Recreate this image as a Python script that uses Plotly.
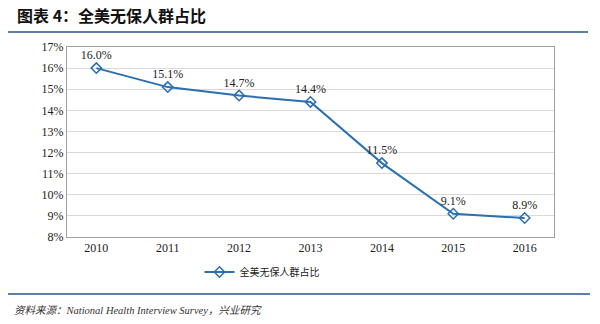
import plotly.graph_objects as go

years = ["2010", "2011", "2012", "2013", "2014", "2015", "2016"]
uninsured_pct = [16.0, 15.1, 14.7, 14.4, 11.5, 9.1, 8.9]
y_ticks = list(range(8, 18))
y_tick_labels = [f"{v}%" for v in y_ticks]
series_name = "全美无保人群占比"
title_text = "图表 4：全美无保人群占比"
source_text = "资料来源：National Health Interview Survey，兴业研究"

W, H = 600, 324
L, R, T, B = 67, 46, 47, 87
ph = H - T - B
pw = W - L - R

def px_x(x):
    return (x - L) / pw

def px_y(y):
    return (H - B - y) / ph

fig = go.Figure()
fig.add_trace(go.Scatter(
    x=years, y=uninsured_pct, mode="lines+markers+text",
    name=series_name,
    line=dict(color="#2a6fb0", width=2),
    marker=dict(symbol="diamond-open", size=8, color="#2a6fb0",
                line=dict(width=1.5, color="#2a6fb0")),
    text=[f"{v:.1f}%" for v in uninsured_pct],
    textposition="top center",
    textfont=dict(family="Liberation Serif", size=12, color="#222"),
))

fig.update_layout(
    width=W, height=H,
    margin=dict(l=L, r=R, t=T, b=B),
    paper_bgcolor="white", plot_bgcolor="white",
    showlegend=True,
    legend=dict(orientation="h", x=px_x(262), xanchor="center",
                y=px_y(272), yanchor="middle", itemwidth=30,
                font=dict(family="Noto Sans CJK SC", size=10, color="#222")),
    xaxis=dict(type="category", showgrid=False, showline=True, mirror=True,
               linecolor="#a0a0a0", linewidth=1, ticks="",
               tickfont=dict(family="Liberation Serif", size=12, color="#222")),
    yaxis=dict(range=[8, 17], tickvals=y_ticks, ticktext=y_tick_labels,
               showgrid=True, gridcolor="#d9d9d9", showline=True, mirror=True,
               linecolor="#a0a0a0", linewidth=1, ticks="", zeroline=False,
               tickfont=dict(family="Liberation Serif", size=12, color="#222")),
    annotations=[
        dict(text=f"<b>{title_text}</b>", xref="paper", yref="paper",
             x=px_x(15), y=px_y(15), xanchor="left", yanchor="middle",
             showarrow=False,
             font=dict(family="Noto Sans CJK SC", size=16, color="#111")),
        dict(text=f"<i>{source_text}</i>", xref="paper", yref="paper",
             x=px_x(12), y=px_y(310), xanchor="left", yanchor="middle",
             showarrow=False,
             font=dict(family="Liberation Serif, Noto Sans CJK SC", size=10.5, color="#333")),
    ],
    shapes=[
        dict(type="line", xref="paper", yref="paper",
             x0=px_x(8), x1=px_x(588), y0=px_y(32), y1=px_y(32),
             line=dict(color="#5a7fa8", width=2)),
        dict(type="line", xref="paper", yref="paper",
             x0=px_x(8), x1=px_x(590), y0=px_y(294), y1=px_y(294),
             line=dict(color="#5a7fa8", width=2)),
    ],
)

fig.write_html("out.html")
